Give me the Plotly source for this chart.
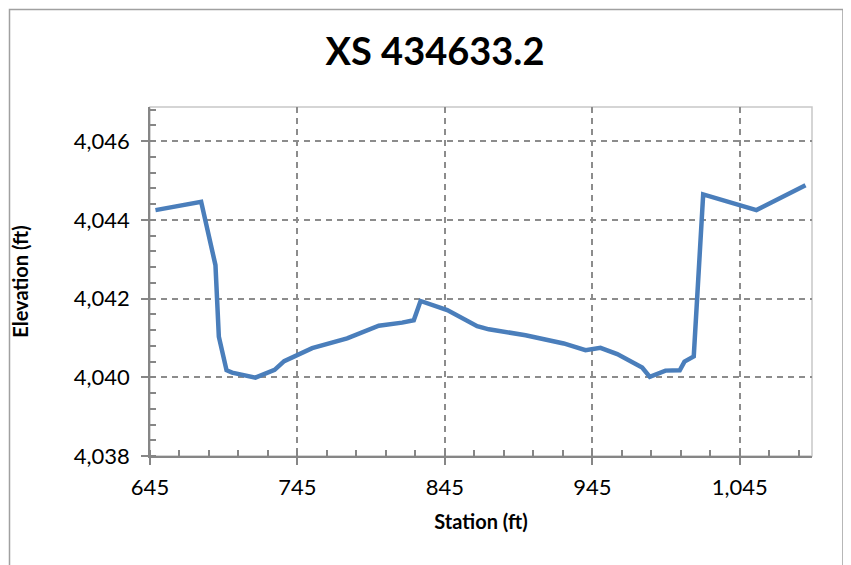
import plotly.graph_objects as go

station = [648.7, 679.7, 689.4, 691.7, 696.9, 700.7, 716.5, 729.5, 736.0, 755.0,
           778.7, 800.2, 816.0, 823.9, 828.5, 846.6, 866.9, 874.8, 899.7, 925.6,
           940.4, 950.5, 961.9, 972.0, 978.8, 984.0, 994.6, 1004.3, 1007.5, 1013.8,
           1020.2, 1056.3, 1089.6]
elevation = [4044.25, 4044.46, 4042.85, 4041.03, 4040.18, 4040.12, 4039.99, 4040.19, 4040.41, 4040.74,
             4040.99, 4041.31, 4041.39, 4041.45, 4041.94, 4041.71, 4041.30, 4041.22, 4041.07, 4040.86,
             4040.69, 4040.75, 4040.59, 4040.37, 4040.25, 4040.01, 4040.17, 4040.18, 4040.40, 4040.53,
             4044.65, 4044.25, 4044.88]

title_text = "XS 434633.2"
x_title = "Station (ft)"
y_title = "Elevation (ft)"

FONT = "Lato"
GRID = "#8c8c8c"
AXIS = "#868686"

# page offset of the plotly div (body margin) is 8px
ML, MR, MT, MB = 142, 47, 99, 117
PW = 851 - ML - MR
PH = 565 - MT - MB

fig = go.Figure()
fig.add_trace(go.Scatter(x=station, y=elevation, mode="lines",
                         line=dict(color="#4a7ebb", width=4.5), showlegend=False))

fig.update_layout(
    width=851, height=565,
    margin=dict(l=ML, r=MR, t=MT, b=MB, autoexpand=False),
    paper_bgcolor="white", plot_bgcolor="white",
    title=dict(text=f"<b>{title_text}</b>", x=(435 - 8) / 851, xanchor="center",
               y=1 - 44 / 565, yanchor="middle", yref="container",
               font=dict(family=FONT, size=38, color="black")),
    font=dict(family=FONT, color="black"),
    separators=".,",
    shapes=[
        dict(type="rect", xref="paper", yref="paper", x0=0, x1=1, y0=0, y1=1,
             line=dict(color="#c8c8c8", width=1.5), layer="below"),
        dict(type="rect", xref="paper", yref="paper",
             x0=(9.5 - 150) / PW, x1=(843 - 150) / PW,
             y0=-(600 - 456) / PH, y1=1 + (107 - 9.5) / PH,
             line=dict(color="#a0a0a0", width=1.5), layer="below"),
    ],
)

fig.update_xaxes(
    range=[645, 1094], tick0=645, dtick=100, tickformat=",d",
    showgrid=True, gridcolor=GRID, gridwidth=1.5, griddash="6px,5px",
    showline=True, linecolor=AXIS, linewidth=1.5,
    ticks="outside", ticklen=7, tickcolor=AXIS, tickwidth=1.5,
    ticklabelstandoff=4,
    tickfont=dict(family=FONT, size=22, color="black"),
    minor=dict(dtick=20, tick0=645, ticks="inside", ticklen=6, tickcolor=AXIS, tickwidth=1.5, showgrid=False),
    zeroline=False,
    title=dict(text=f"<b>{x_title}</b>", font=dict(family=FONT, size=20, color="black"), standoff=16),
)
fig.update_yaxes(
    range=[4038, 4046.87], tick0=4038, dtick=2, tickformat=",d",
    showgrid=True, gridcolor=GRID, gridwidth=1.5, griddash="6px,5px",
    showline=True, linecolor=AXIS, linewidth=1.5,
    ticks="outside", ticklen=7, tickcolor=AXIS, tickwidth=1.5,
    ticklabelstandoff=7,
    tickfont=dict(family=FONT, size=22, color="black"),
    minor=dict(dtick=0.4, tick0=4038, ticks="inside", ticklen=6, tickcolor=AXIS, tickwidth=1.5, showgrid=False),
    zeroline=False,
    title=dict(text=f"<b>{y_title}</b>", font=dict(family=FONT, size=20, color="black"), standoff=46),
)

fig.write_html("out.html")
